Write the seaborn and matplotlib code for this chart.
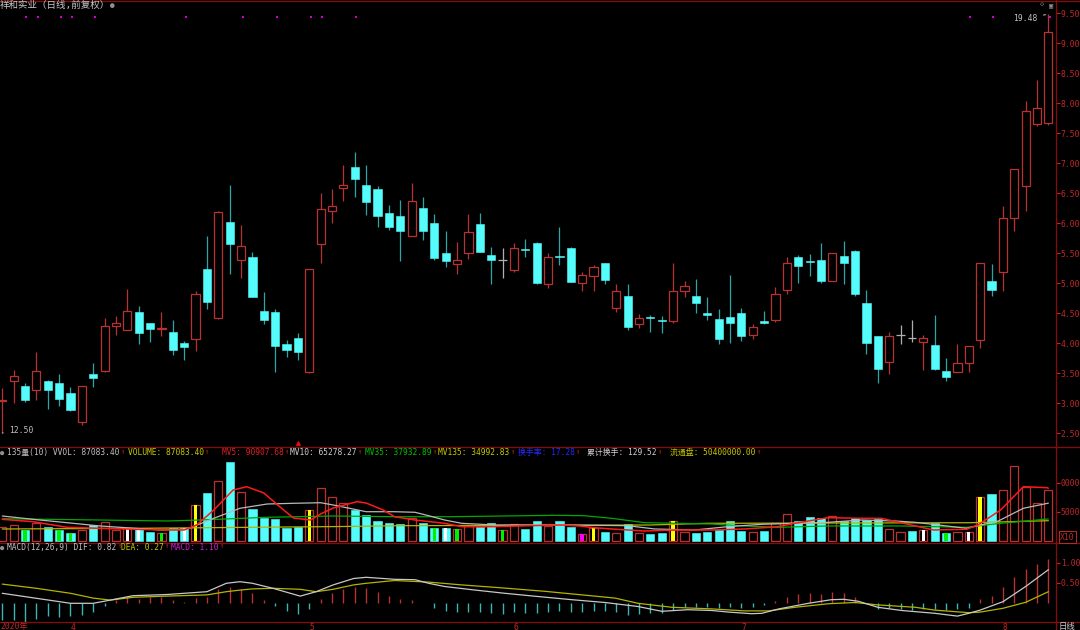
import numpy as np
import pandas as pd
import matplotlib
matplotlib.use("Agg")
import matplotlib.pyplot as plt
from matplotlib.lines import Line2D
from matplotlib.ticker import FuncFormatter
import seaborn as sns

# ========== DATA ==========
opens = [13.04, 13.37, 13.29, 13.21, 13.37, 13.33, 13.16, 12.69, 13.49, 13.54,
         14.29, 14.22, 14.51, 14.33, 14.24, 14.19, 14.00, 14.07, 15.23, 14.41,
         16.01, 15.39, 15.43, 14.54, 14.52, 13.98, 14.08, 13.52, 15.65, 16.20,
         16.59, 16.94, 16.64, 16.57, 16.16, 16.12, 15.78, 16.25, 16.00, 15.50,
         15.31, 15.50, 15.99, 15.46, 15.38, 15.22, 15.56, 15.67, 14.99, 15.45,
         15.59, 15.00, 15.11, 15.33, 14.59, 14.79, 14.32, 14.44, 14.38, 14.37,
         14.87, 14.79, 14.50, 14.40, 14.44, 14.50, 14.13, 14.37, 14.38, 14.88,
         15.44, 15.36, 15.38, 15.03, 15.45, 15.54, 14.66, 14.11, 13.68, 14.14,
         14.09, 14.01, 13.97, 13.54, 13.51, 13.66, 14.05, 15.03, 15.18, 16.08,
         16.62, 17.65, 17.66]
highs = [13.25, 13.55, 13.34, 13.85, 13.38, 13.48, 13.27, 13.28, 13.67, 14.42,
         14.45, 14.90, 14.61, 14.34, 14.52, 14.39, 14.03, 14.86, 15.78, 16.20,
         16.63, 15.97, 15.52, 14.85, 14.56, 14.05, 14.17, 15.24, 16.50, 16.56,
         16.97, 17.18, 16.97, 16.61, 16.30, 16.39, 16.67, 16.43, 16.15, 15.87,
         15.69, 16.15, 16.17, 15.60, 15.59, 15.67, 15.74, 15.68, 15.50, 15.93,
         15.60, 15.19, 15.30, 15.34, 14.98, 14.99, 14.48, 14.47, 14.45, 15.34,
         15.03, 15.07, 14.76, 14.56, 15.13, 14.58, 14.32, 14.54, 14.93, 15.43,
         15.47, 15.48, 15.66, 15.50, 15.70, 15.55, 14.88, 14.12, 14.18, 14.30,
         14.38, 14.13, 14.47, 13.75, 13.98, 13.95, 15.34, 15.32, 16.28, 16.90,
         18.04, 18.38, 19.48]
lows = [12.50, 13.00, 13.01, 13.05, 12.90, 12.95, 12.86, 12.63, 13.26, 13.52,
        14.13, 14.22, 13.99, 14.02, 14.12, 13.80, 13.72, 13.86, 14.56, 14.40,
        15.15, 15.09, 14.77, 14.31, 13.52, 13.77, 13.71, 13.50, 15.34, 16.00,
        16.36, 16.44, 16.14, 15.94, 15.88, 15.36, 15.78, 15.72, 15.39, 15.27,
        15.15, 15.40, 15.52, 14.99, 15.09, 15.19, 15.44, 14.98, 14.91, 15.30,
        15.02, 14.87, 14.86, 14.99, 14.52, 14.22, 14.25, 14.19, 14.16, 14.34,
        14.77, 14.50, 14.38, 13.99, 14.00, 14.04, 14.07, 14.31, 14.35, 14.81,
        15.00, 15.12, 15.00, 15.03, 14.99, 14.79, 13.82, 13.34, 13.48, 13.99,
        14.01, 13.55, 13.55, 13.36, 13.51, 13.52, 13.91, 14.79, 14.86, 15.87,
        16.20, 17.61, 17.64]
closes = [13.05, 13.45, 13.05, 13.54, 13.21, 13.07, 12.89, 13.28, 13.41, 14.28,
          14.33, 14.54, 14.17, 14.23, 14.25, 13.89, 13.94, 14.81, 14.69, 16.18,
          15.65, 15.61, 14.77, 14.39, 13.95, 13.88, 13.85, 15.23, 16.23, 16.29,
          16.63, 16.74, 16.35, 16.12, 15.94, 15.86, 16.36, 15.87, 15.42, 15.36,
          15.38, 15.85, 15.52, 15.38, 15.38, 15.58, 15.55, 15.00, 15.43, 15.44,
          15.02, 15.13, 15.26, 15.05, 14.86, 14.26, 14.42, 14.41, 14.37, 14.87,
          14.95, 14.66, 14.46, 14.06, 14.34, 14.11, 14.26, 14.34, 14.81, 15.34,
          15.28, 15.35, 15.04, 15.50, 15.34, 14.82, 14.00, 13.56, 14.11, 14.14,
          14.09, 14.08, 13.56, 13.44, 13.66, 13.95, 15.34, 14.89, 16.08, 16.90,
          17.87, 17.92, 19.18]
volumes = [23600, 27100, 19000, 30500, 24700, 19000, 13300, 19000, 27600, 32200,
           19000, 21900, 21900, 15000, 14300, 21900, 21900, 62100, 82200, 103400,
           136700, 85000, 55200, 39100, 37400, 22900, 24700, 53400, 90900, 75300,
           65000, 53400, 44800, 35000, 31600, 29300, 39100, 30500, 21900, 22900,
           20700, 26400, 23600, 30500, 18400, 28800, 20700, 35000, 26400, 34500,
           24700, 11500, 22900, 15000, 13300, 29300, 13300, 12100, 14300, 34500,
           16000, 14300, 16000, 19000, 35000, 17200, 15000, 17200, 30500, 46000,
           34500, 41900, 39100, 43600, 35000, 39100, 36200, 37900, 20200, 15000,
           17200, 19000, 30500, 13300, 15000, 15000, 76400, 81000, 87900, 129300,
           93600, 66000, 87083]
macd_hist = [-0.44, -0.44, -0.48, -0.40, -0.34, -0.35, -0.34, -0.31, -0.23, -0.08,
             0.06, 0.13, 0.10, 0.13, 0.13, 0.06, 0.02, 0.12, 0.15, 0.33,
             0.38, 0.33, 0.23, 0.06, -0.09, -0.20, -0.29, -0.15, 0.08, 0.23,
             0.33, 0.40, 0.36, 0.27, 0.16, 0.09, 0.06, -0.02, -0.13, -0.21,
             -0.23, -0.23, -0.23, -0.25, -0.29, -0.23, -0.25, -0.27, -0.23, -0.21,
             -0.23, -0.23, -0.21, -0.21, -0.23, -0.31, -0.29, -0.27, -0.25, -0.19,
             -0.11, -0.11, -0.11, -0.13, -0.11, -0.13, -0.11, -0.06, 0.03, 0.15,
             0.21, 0.25, 0.21, 0.27, 0.25, 0.15, -0.02, -0.16, -0.14, -0.16,
             -0.19, -0.16, -0.17, -0.18, -0.16, -0.14, 0.08, 0.16, 0.40, 0.63,
             0.83, 0.96, 1.10]

# turnover marks drawn inside some volume bars
stripe_idx = [2, 5, 6, 11, 12, 14, 16, 17, 27, 38, 39, 40, 44, 51, 52, 59, 81, 83, 85, 86]
stripe_kind = ['green', 'green', 'green', 'white', 'white', 'green', 'white', 'yellow',
               'yellow', 'green', 'white', 'green', 'green', 'magenta', 'yellow', 'yellow',
               'white', 'green', 'white', 'yellow']

# volume moving averages (x = bar index)
mv5_x = [0, 2.7, 5.7, 8.6, 11.5, 14.5, 16.0, 17.1, 18.6, 20.3, 21.5, 23.0, 24.4, 25.6,
         27.1, 28.0, 29.1, 31.2, 32.0, 33.5, 34.5, 36.3, 38.9, 40.4, 43.3, 46.3, 49.2,
         50.7, 52.1, 53.6, 56.5, 59.4, 62.4, 65.3, 68.2, 69.7, 72.6, 75.6, 77.3, 80.3,
         81.9, 84.8, 85.8, 87.8, 89.8, 91.9, 92]
mv5_v = [37400, 33300, 23600, 21900, 20200, 19000, 19000, 27600, 53400, 87900, 93600,
         82800, 59100, 39700, 36200, 46600, 56900, 67800, 65500, 53400, 41900, 36200,
         30500, 24700, 24700, 26400, 27600, 25900, 22900, 20700, 17200, 19000, 19000,
         20700, 24700, 30500, 40200, 39100, 39100, 25900, 19000, 20200, 27600, 53400,
         93600, 91900, 90907]
mv10_x = [0, 2.7, 8.6, 13.9, 16.2, 18.6, 20.9, 23.3, 25.6, 28.0, 29.1, 32.0, 34.5, 36.3,
          37.5, 38.9, 40.4, 43.3, 49.2, 55.0, 57.4, 60.9, 63.8, 66.8, 69.7, 72.6, 75.6,
          78.5, 80.3, 84.8, 87.6, 89.8, 92]
mv10_v = [43100, 37400, 25900, 19000, 20200, 39100, 56400, 63800, 65000, 66000, 62100,
          50500, 50500, 49500, 43600, 36200, 30500, 27600, 27600, 26400, 20700, 19000,
          24700, 28800, 30500, 32200, 36200, 34500, 32200, 21900, 34500, 56400, 65278]
mv35_x = [0, 8.6, 14.5, 17.4, 23.3, 29.1, 34.5, 39.5, 48.6, 51.2, 53.6, 56.5, 62.4, 65.3,
          68.2, 72.6, 78.9, 84.8, 87.8, 92]
mv35_v = [38400, 36200, 34500, 36200, 40900, 43100, 41900, 41900, 44300, 43600, 39100,
          31600, 29300, 25900, 23600, 25900, 25900, 23600, 30500, 37933]
mv135_x = [0, 12, 30, 35, 57, 62, 85, 92]
mv135_v = [20700, 21900, 25000, 26400, 27600, 30500, 31500, 34993]

dif_x = [0, 3, 6, 8, 9.5, 11.5, 14.5, 18, 19.7, 20.9, 22, 23.8, 26.2, 27.6, 29.1, 30.9,
         32, 34.5, 36.3, 37.5, 38.9, 41.3, 44.2, 47.1, 50.1, 53.0, 55.9, 58.0, 60.3, 62.4,
         63.9, 65.9, 66.8, 68.3, 70.9, 72.9, 74.0, 75.3, 77.0, 79.1, 82, 84, 85, 86, 88,
         90, 92]
dif_v = [0.23, 0.105, -0.02, -0.02, 0.06, 0.17, 0.20, 0.27, 0.48, 0.52, 0.48, 0.355, 0.16,
         0.27, 0.44, 0.60, 0.63, 0.58, 0.57, 0.48, 0.40, 0.32, 0.23, 0.15, 0.07, 0.0, -0.10,
         -0.22, -0.18, -0.20, -0.24, -0.28, -0.27, -0.16, -0.02, 0.07, 0.08, 0.03, -0.12,
         -0.20, -0.27, -0.34, -0.27, -0.19, 0.02, 0.40, 0.82]
dea_x = [0, 3, 6, 8, 9.5, 11.5, 14.5, 18, 19.7, 20.9, 22, 23.8, 26.2, 27.6, 29.1, 30.9,
         32, 34.5, 37.5, 40.4, 44.2, 47.7, 51.0, 53.9, 55.9, 58.9, 62.4, 65.3, 67.4, 69.7,
         72.7, 75.0, 77.0, 80.3, 82, 85, 86, 88, 90, 92]
dea_v = [0.46, 0.355, 0.23, 0.11, 0.06, 0.13, 0.16, 0.19, 0.27, 0.31, 0.34, 0.355, 0.33,
         0.27, 0.33, 0.44, 0.48, 0.55, 0.51, 0.44, 0.36, 0.28, 0.19, 0.11, -0.02, -0.12,
         -0.16, -0.21, -0.21, -0.12, -0.03, 0.0, -0.06, -0.12, -0.19, -0.255, -0.24, -0.145,
         0.005, 0.27]

info_idx = [2, 3, 5, 6, 8, 16, 21, 24, 27, 28, 31, 85, 87, 92]
flag_idx = 26

price_ticks = [12.5, 13.0, 13.5, 14.0, 14.5, 15.0, 15.5, 16.0, 16.5, 17.0, 17.5,
               18.0, 18.5, 19.0, 19.5]
vol_ticks = [5000, 10000]
macd_ticks = [0.5, 1.0]
month_idx = [6, 27, 45, 65, 88]
month_lbl = ['4', '5', '6', '7', '8']

title = "祥和实业（日线,前复权）"
vol_legend = ["135量(10) VVOL: 87083.40", "VOLUME: 87083.40", "MV5: 90907.68",
              "MV10: 65278.27", "MV35: 37932.89", "MV135: 34992.83", "换手率: 17.28",
              "累计换手: 129.52", "流通盘: 50400000.00"]
macd_legend = ["MACD(12,26,9) DIF: 0.82", "DEA: 0.27", "MACD: 1.10"]

# ========== STYLE ==========
sns.set_theme(style="dark", rc={"axes.facecolor": "black", "figure.facecolor": "black",
                                "axes.grid": False})
plt.rcParams['font.family'] = ['DejaVu Sans Mono', 'Noto Sans CJK SC', 'DejaVu Sans']

FRAME = '#8a0a0a'
RED = '#b83232'
RED_TXT = '#c02828'
CYAN = '#54fcfc'
CYAN_W = '#2aa6a6'
GRAY = '#c0c0c0'
YEL = '#c8c800'
STRIPE = {'green': '#00f000', 'white': '#ffffff', 'yellow': '#ffff00', 'magenta': '#ff00ff'}

W, H = 1080, 630
fig = plt.figure(figsize=(W / 100, H / 100), dpi=100)
renderer = fig.canvas.get_renderer()


def box(l, t, r, b):
    return [l / W, 1 - b / H, (r - l) / W, (b - t) / H]


def ftxt(x, y, s, c, size=5.7, **kw):
    return fig.text(x / W, 1 - y / H, s, color=c, fontsize=size, va='center', ha='left', **kw)


def legend_row(y, xs, texts, colors):
    ftxt(0, y, "●", '#909090', size=5)
    for x, s, c in zip(xs, texts, colors):
        t = ftxt(x, y, s, c)
        bb = t.get_window_extent(renderer=renderer)
        ftxt(bb.x1 + 0.5, y - 1, "↑", '#e02020', size=5)


ax = fig.add_axes(box(0, 1, 1056, 447))
axv = fig.add_axes(box(0, 447, 1056, 543), sharex=ax)
axm = fig.add_axes(box(0, 543, 1056, 622), sharex=ax)

df = pd.DataFrame({"o": opens, "h": highs, "l": lows, "c": closes,
                   "v": np.array(volumes) / 10, "mh": macd_hist})
df["i"] = np.arange(len(df))
up = df.c > df.o
dn = df.c < df.o
flat = df.c == df.o
BW = 0.72

# ---- candles ----
ax.vlines(df.i[up], df.l[up], df.h[up], color=RED, lw=0.9, zorder=2)
ax.bar(df.i[up], (df.c - df.o)[up], bottom=df.o[up], width=BW, facecolor='black',
       edgecolor=RED, lw=0.9, zorder=3)
ax.vlines(df.i[dn], df.l[dn], df.h[dn], color=CYAN_W, lw=0.9, zorder=2)
ax.bar(df.i[dn], (df.o - df.c)[dn], bottom=df.c[dn], width=BW, color=CYAN,
       edgecolor=CYAN, lw=0.4, zorder=3)
ax.vlines(df.i[flat], df.l[flat], df.h[flat], color='#b0b0b0', lw=0.9, zorder=2)
ax.hlines(df.c[flat], df.i[flat] - BW / 2, df.i[flat] + BW / 2, color='#b0b0b0', lw=0.9)

sns.scatterplot(x=np.array(info_idx) + 0.13, y=[19.43] * len(info_idx), ax=ax,
                color='#d000d0', marker='s', s=2, linewidth=0, legend=False)
ax.scatter([flag_idx], [12.33], marker='^', s=6, color='#e01010', zorder=5)

ax.annotate("19.48", xy=(92, 19.48), xytext=(-11, -4), textcoords='offset pixels',
            ha='right', va='center', color=GRAY, fontsize=5.8,
            arrowprops=dict(arrowstyle='-', color=GRAY, lw=0.7))
ax.annotate("12.50", xy=(0, 12.5), xytext=(7, 3), textcoords='offset pixels',
            ha='left', va='center', color=GRAY, fontsize=5.8,
            arrowprops=dict(arrowstyle='-', color=GRAY, lw=0.7))

ax.set_ylim(12.267, 19.70)
ax.set_xlim(-0.2, 92.67)

# ---- volume ----
prev_c = df.c.shift(1).fillna(df.c)
vup = up | (flat & (df.c >= prev_c))
vdn = ~vup
axv.bar(df.i[vup], df.v[vup], width=BW, facecolor='black', edgecolor=RED, lw=0.9, zorder=2)
axv.bar(df.i[vdn], df.v[vdn], width=BW, color=CYAN, edgecolor=CYAN, lw=0.4, zorder=2)
for k, kind in zip(stripe_idx, stripe_kind):
    axv.bar(k, df.v[k], width=0.3, color=STRIPE[kind], lw=0, zorder=3)

for xs, vs, col, lw in [(mv135_x, mv135_v, '#b4b400', 0.9), (mv35_x, mv35_v, '#00a800', 0.9),
                        (mv10_x, mv10_v, '#b8b8b8', 0.9), (mv5_x, mv5_v, '#ff1a1a', 1.1)]:
    sns.lineplot(x=xs, y=np.array(vs) / 10, ax=axv, color=col, lw=lw, legend=False, zorder=4)
axv.set_ylim(-345, 16207)

# ---- MACD ----
mh = df["mh"].values
axm.vlines(df.i, 0, mh, colors=np.where(mh > 0, RED, '#3cb4b4'), lw=1.0)
sns.lineplot(x=dea_x, y=dea_v, ax=axm, color='#b4b400', lw=0.9, legend=False)
sns.lineplot(x=dif_x, y=dif_v, ax=axm, color='#c8c8c8', lw=0.9, legend=False)
axm.set_ylim(-0.4875, 1.4875)

# ---- axes cosmetics ----
for a in (ax, axv, axm):
    a.set_facecolor('black')
    for s in a.spines.values():
        s.set_visible(False)
    a.set_xlabel("")
    a.set_ylabel("")
    a.yaxis.tick_right()
    a.tick_params(axis='y', direction='out', length=3, width=0.8, color=RED_TXT,
                  labelcolor=RED_TXT, labelsize=5.8, pad=0.5)
    a.tick_params(axis='x', length=0)

ax.set_yticks(price_ticks)
ax.yaxis.set_major_formatter(FuncFormatter(lambda v, _: f"{v:.2f}"[1:]))
axv.set_yticks(vol_ticks)
axv.yaxis.set_major_formatter(FuncFormatter(lambda v, _: f"{int(v)}"[-4:]))
axm.set_yticks(macd_ticks)
axm.yaxis.set_major_formatter(FuncFormatter(lambda v, _: f"{v:.2f}"))
ax.tick_params(axis='x', labelbottom=False)
axv.tick_params(axis='x', labelbottom=False)
axm.set_xticks(month_idx)
axm.set_xticklabels(month_lbl, ha='left')
axm.tick_params(axis='x', labelsize=5.8, labelcolor=RED_TXT, pad=0.5)

# frame lines
for (x0, y0, x1, y1) in [(0, 0.6, W, 0.6), (0, 447, W, 447), (0, 543, W, 543),
                         (0, 622, W, 622), (1056, 0, 1056, H)]:
    fig.add_artist(Line2D([x0 / W, x1 / W], [1 - y0 / H, 1 - y1 / H], color=FRAME,
                          lw=0.9, transform=fig.transFigure))

# ---- texts ----
ftxt(0, 5.5, title, '#c8c8c8', size=6.8)
ftxt(110, 5.5, "●", '#909090', size=5.5)
ftxt(1040, 5, "◇", '#909090', size=5)
ftxt(1049, 5, "▣", '#909090', size=5)

legend_row(452.5, [7, 128, 222, 290, 365, 438, 518, 587, 670], vol_legend,
           [GRAY, YEL, '#e02020', '#d0d0d0', '#00c000', YEL, '#2828ff', '#d0d0d0', YEL])
legend_row(547.5, [7, 121, 171], macd_legend, [GRAY, YEL, '#d020d0'])

ftxt(1060, 537, "X10", RED_TXT, size=5.8,
     bbox=dict(boxstyle='square,pad=0.15', fc='black', ec=RED_TXT, lw=0.7))
ftxt(0, 627, "2020年", RED_TXT, size=5.8)
ftxt(1059, 627, "日线", '#d0d0d0', size=6)

fig.savefig("out.png", dpi=100, facecolor='black')
